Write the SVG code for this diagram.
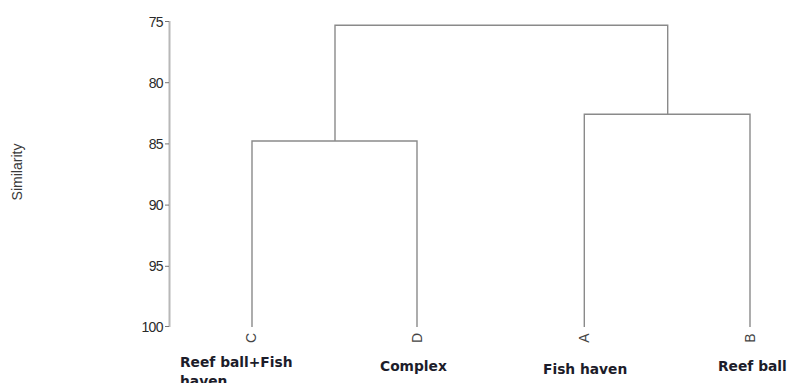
<svg xmlns="http://www.w3.org/2000/svg" width="787" height="383" viewBox="0 0 787 383">
<style>
.axis{stroke:#b8b8b8;stroke-width:2;fill:none}
.tick{stroke:#777;stroke-width:1;fill:none}
.num{font-family:"Liberation Sans",Arial,sans-serif;font-size:14px;fill:#2a2a2a;text-anchor:end;letter-spacing:-0.6px}
.ttl{font-family:"Liberation Sans",Arial,sans-serif;font-size:14px;fill:#3a3a3a;text-anchor:middle}
.br{stroke:#8a8a8a;stroke-width:1.4;fill:none}
.leaf{font-family:"Liberation Sans",Arial,sans-serif;font-size:14px;fill:#444;text-anchor:middle}
.lab{font-family:"DejaVu Sans",Verdana,sans-serif;font-size:13.8px;font-weight:bold;fill:#1c1c2a}
</style>
<rect width="787" height="383" fill="#fff"/>
<g id="axis">
<line class="axis" x1="169.5" y1="21" x2="169.5" y2="327"/>
<g class="tick">
<line x1="165" y1="21.5" x2="169" y2="21.5"/>
<line x1="165" y1="82.7" x2="169" y2="82.7"/>
<line x1="165" y1="143.9" x2="169" y2="143.9"/>
<line x1="165" y1="205.1" x2="169" y2="205.1"/>
<line x1="165" y1="266.3" x2="169" y2="266.3"/>
<line x1="165" y1="326.5" x2="169" y2="326.5"/>
</g>
<text class="num" x="163" y="26.5">75</text>
<text class="num" x="163" y="87.7">80</text>
<text class="num" x="163" y="148.9">85</text>
<text class="num" x="163" y="210.1">90</text>
<text class="num" x="163" y="271.3">95</text>
<text class="num" x="163" y="331.5">100</text>
<text class="ttl" transform="translate(22,172) rotate(-90)">Similarity</text>
</g>
<g id="connectors">
<polyline class="br" points="335,141 335,25.3 667.7,25.3 667.7,114.3"/>
<polyline class="br" points="252,327 252,141 417,141 417,327"/>
<polyline class="br" points="584.3,327 584.3,114.3 750,114.3 750,327"/>
</g>
<g id="leafC"><text class="leaf" transform="translate(256,338) rotate(-90)">C</text></g>
<g id="leafD"><text class="leaf" transform="translate(421.5,338) rotate(-90)">D</text></g>
<g id="leafA"><text class="leaf" transform="translate(589,338) rotate(-90)">A</text></g>
<g id="leafB"><text class="leaf" transform="translate(755,338) rotate(-90)">B</text></g>
<g id="labelC"><text class="lab" x="180" y="367">Reef ball+Fish</text><text class="lab" x="180" y="385.5">haven</text></g>
<g id="labelD"><text class="lab" x="380" y="371">Complex</text></g>
<g id="labelA"><text class="lab" x="543" y="373.5">Fish haven</text></g>
<g id="labelB"><text class="lab" x="718" y="371">Reef ball</text></g>
</svg>
